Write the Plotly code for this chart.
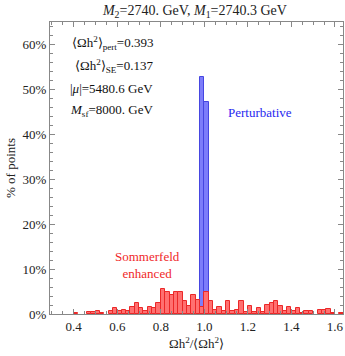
import plotly.graph_objects as go

# Histogram bins (left edges, width 0.02) and percent of points
pert_bins = [0.98, 1.00]
pert_pct = [52.7, 47.3]

se_bins = [0.40,
           0.46, 0.48, 0.50, 0.52,
           0.56, 0.58, 0.60, 0.62, 0.64, 0.66, 0.68, 0.70, 0.72, 0.74, 0.76, 0.78,
           0.80, 0.82, 0.84, 0.86, 0.88, 0.90, 0.92, 0.94, 0.96, 0.98, 1.00,
           1.02, 1.04, 1.06, 1.08, 1.10, 1.12, 1.14, 1.16, 1.18, 1.20,
           1.22, 1.24, 1.26, 1.28, 1.30, 1.32, 1.34, 1.36, 1.38, 1.40,
           1.42, 1.44, 1.46, 1.48, 1.52, 1.54, 1.56, 1.58, 1.62]
se_pct = [0.2,
          0.4, 0.4, 0.6, 0.2,
          0.75, 1.3, 0.7, 1.0, 0.6, 1.5, 2.4, 1.4, 0.7, 1.5, 1.3, 2.4,
          5.5, 4.9, 4.2, 4.8, 4.8, 2.9, 1.8, 4.3, 3.2, 1.6, 5.0,
          3.0, 0.9, 1.6, 0.7, 3.0, 0.6, 0.9, 3.0, 0.5, 1.8,
          0.5, 1.3, 0.5, 2.0, 2.4, 2.8, 1.8, 0.6, 1.6, 0.6,
          1.3, 0.3, 0.7, 0.7, 0.9, 0.9, 1.1, 0.3, 0.2]

BIN_W = 0.02
x_ticks = [0.4, 0.6, 0.8, 1.0, 1.2, 1.4, 1.6]
y_ticks = [0, 10, 20, 30, 40, 50, 60]

SERIF = "Liberation Serif"

fig = go.Figure()
fig.add_trace(go.Bar(
    x=[b + BIN_W / 2 for b in pert_bins], y=pert_pct, width=BIN_W,
    marker=dict(color="rgb(125,125,250)", line=dict(color="rgb(70,70,225)", width=1)),
    showlegend=False,
))
fig.add_trace(go.Bar(
    x=[b + BIN_W / 2 for b in se_bins], y=se_pct, width=BIN_W,
    marker=dict(color="rgb(255,112,112)", line=dict(color="rgb(235,40,40)", width=1)),
    showlegend=False,
))

axis_common = dict(
    showline=True, linecolor="#888", linewidth=1, mirror="allticks",
    ticks="inside", ticklen=5, tickcolor="#888", tickwidth=1,
    showgrid=False, zeroline=False,
    tickfont=dict(family=SERIF, size=13, color="#222"),
)

fig.update_xaxes(
    range=[0.291, 1.637], tickvals=x_ticks, ticktext=[f"{v:.1f}" for v in x_ticks],
    minor=dict(dtick=0.05, tick0=0, ticks="inside", ticklen=3, tickcolor="#888"),
    title=dict(text="Ωh<sup>2</sup>/⟨Ωh<sup>2</sup>⟩", font=dict(family=SERIF, size=13, color="#222"),
               standoff=6),
    **axis_common,
)
fig.update_yaxes(
    range=[0, 65], tickvals=y_ticks, ticktext=[f"{v}%" for v in y_ticks],
    minor=dict(dtick=2, tick0=0, ticks="inside", ticklen=3, tickcolor="#888"),
    title=dict(text="% of points", font=dict(family=SERIF, size=13, color="#222"), standoff=4),
    **axis_common,
)

info_lines = [
    "⟨Ωh<sup>2</sup>⟩<sub>pert</sub>=0.393",
    "⟨Ωh<sup>2</sup>⟩<sub>SE</sub>=0.137",
    "|<i>μ</i>|=5480.6 GeV",
    "<i>M</i><sub>sf</sub>=8000. GeV",
]
info_y = [60.3, 55.2, 50.2, 45.2]
for txt, yy in zip(info_lines, info_y):
    fig.add_annotation(x=0.775, y=yy, text=txt, showarrow=False, xanchor="right",
                       font=dict(family=SERIF, size=13, color="#111"))

fig.add_annotation(x=1.255, y=44.8, text="Perturbative", showarrow=False,
                   font=dict(family=SERIF, size=13, color="rgb(40,40,240)"))
fig.add_annotation(x=0.74, y=11.0, text="Sommerfeld<br>enhanced", showarrow=False,
                   font=dict(family=SERIF, size=13, color="rgb(240,40,40)"))

fig.update_layout(
    width=345, height=356,
    margin=dict(l=50, r=2, t=22, b=42),
    paper_bgcolor="white", plot_bgcolor="white",
    barmode="overlay", bargap=0,
    title=dict(text="<i>M</i><sub>2</sub>=2740. GeV, <i>M</i><sub>1</sub>=2740.3 GeV",
               x=0.565, xanchor="center", y=0.972, yanchor="middle",
               font=dict(family=SERIF, size=14, color="#222")),
)

fig.write_html("out.html", config={"displayModeBar": False},
               post_script="document.body.style.margin='0';")
